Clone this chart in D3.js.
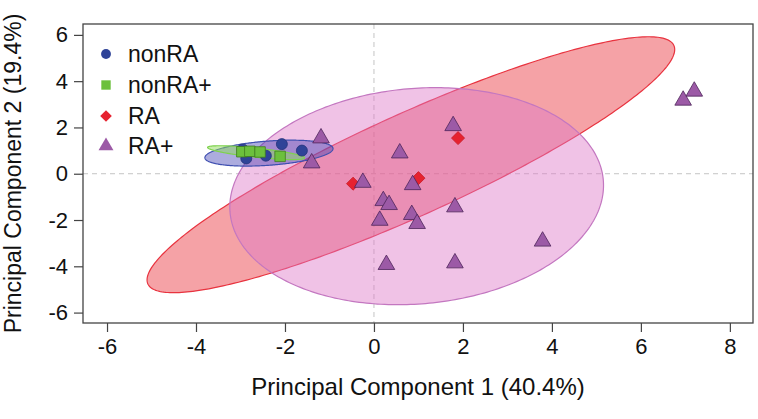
<!DOCTYPE html>
<html lang="en">
<head>
  <meta charset="UTF-8">
  <title>PCA RA / nonRA</title>
  <script src="https://d3js.org/d3.v7.min.js"></script>
  <style>
    body { margin: 0; background: #fff; }
    text { font-family: "Liberation Sans", Arial, sans-serif; fill: #111; }
  </style>
</head>
<body>
  <div id="chart"></div>

  <script>
    const width = 758;
    const height = 419;

    // groups, in drawing order
    const groups = ["nonRA", "nonRA+", "RA", "RA+"];

    // PC1 / PC2 scores per group
    const nonRA = [[-2.87, 0.66], [-2.07, 1.28], [-1.62, 1.0], [-2.43, 0.78], [-2.95, 1.05]];
    const nonRAplus = [[-2.97, 0.95], [-2.79, 0.97], [-2.56, 0.94], [-2.11, 0.75]];
    const RA = [[1.89, 1.54], [1.0, -0.19], [-0.47, -0.43]];
    const RAplus = [
      [1.78, 2.07], [0.58, 0.89], [-0.25, -0.38], [0.87, -0.48], [0.21, -1.17],
      [0.34, -1.34], [0.13, -2.02], [0.85, -1.77], [0.97, -2.16], [1.82, -1.44],
      [0.28, -3.93], [1.82, -3.86], [3.79, -2.92], [-1.19, 1.54], [-1.4, 0.46],
      [6.95, 3.17], [7.2, 3.56]
    ];

    // confidence ellipses: centre, half extents on each axis, correlation
    const ellCenter = [[-2.36, 0.89], [-2.65, 0.91], [0.83, 0.39], [0.96, -0.97]];
    const ellRx = [1.44, 1.09, 5.93, 4.2];
    const ellRy = [0.56, 0.30, 5.53, 4.69];
    const ellRho = [0.35, -0.75, 0.90, 0.10];

    const xTicks = [-6, -4, -2, 0, 2, 4, 6, 8];
    const yTicks = [-6, -4, -2, 0, 2, 4, 6];

    const pointsByGroup = [nonRA, nonRAplus, RA, RAplus];

    const fills = ["#2f4398", "#6cc03c", "#e6222f", "#9c5aa6"];
    const strokes = ["#23327a", "#3f7a20", "#c81c28", "#4d2459"];
    const ellFill = ["#3a3ab0", "#8fdc5a", "#e8303a", "#de78c8"];
    const ellStroke = ["#3f4fb0", "#7ed24e", "#e8333f", "#c377c0"];
    const ellOpacity = [0.42, 0.5, 0.45, 0.45];
    const symbols = [d3.symbolCircle, d3.symbolSquare, d3.symbolSquare, d3.symbolTriangle];
    const rotations = [0, 0, 45, 0];
    const sizes = [95, 110, 85, 120];

    const margin = { left: 83, right: 5, top: 24, bottom: 96 };

    const svg = d3.select("#chart")
      .append("svg")
      .attr("width", width)
      .attr("height", height);

    const x = d3.scaleLinear()
      .domain([-6.54, 8.52])
      .range([margin.left, width - margin.right]);

    const y = d3.scaleLinear()
      .domain([-6.45, 6.47])
      .range([height - margin.bottom, margin.top]);

    // clip for the plot region
    svg.append("clipPath").attr("id", "plotClip")
      .append("rect")
      .attr("x", margin.left).attr("y", margin.top)
      .attr("width", x.range()[1] - margin.left)
      .attr("height", y.range()[0] - margin.top);

    const plot = svg.append("g").attr("clip-path", "url(#plotClip)");

    // reference lines at zero
    plot.append("line")
      .attr("x1", x(0)).attr("x2", x(0))
      .attr("y1", margin.top).attr("y2", y.range()[0])
      .attr("stroke", "#c4c4c4").attr("stroke-dasharray", "5,4");
    plot.append("line")
      .attr("x1", margin.left).attr("x2", x.range()[1])
      .attr("y1", y(0)).attr("y2", y(0))
      .attr("stroke", "#c4c4c4").attr("stroke-dasharray", "5,4");

    // ellipses (red first, then purple, then the small ones)
    const ellOrder = [2, 3, 0, 1];
    const ts = d3.range(0, 2 * Math.PI, 0.02);
    const ellLine = d3.line().curve(d3.curveLinearClosed);

    ellOrder.forEach(i => {
      const phi = Math.acos(ellRho[i]);
      const pts = ts.map(t => [
        x(ellCenter[i][0] + ellRx[i] * Math.cos(t)),
        y(ellCenter[i][1] + ellRy[i] * Math.cos(t - phi))
      ]);
      plot.append("path")
        .attr("d", ellLine(pts))
        .attr("fill", ellFill[i])
        .attr("fill-opacity", ellOpacity[i])
        .attr("stroke", ellStroke[i])
        .attr("stroke-width", 1.2);
    });

    // points
    pointsByGroup.forEach((pts, i) => {
      plot.selectAll(null)
        .data(pts)
        .enter()
        .append("path")
        .attr("d", d3.symbol().type(symbols[i]).size(sizes[i]))
        .attr("transform", d => `translate(${x(d[0])},${y(d[1])}) rotate(${rotations[i]})`)
        .attr("fill", fills[i])
        .attr("stroke", strokes[i])
        .attr("stroke-width", 0.8);
    });

    // frame
    svg.append("rect")
      .attr("x", margin.left).attr("y", margin.top)
      .attr("width", x.range()[1] - margin.left)
      .attr("height", y.range()[0] - margin.top)
      .attr("fill", "none")
      .attr("stroke", "#444")
      .attr("stroke-width", 1.3);

    // axes
    const fmt = d => String(d);
    const xAxis = svg.append("g")
      .attr("transform", `translate(0,${y.range()[0]})`)
      .call(d3.axisBottom(x).tickValues(xTicks).tickFormat(fmt).tickSize(9).tickPadding(6));
    const yAxis = svg.append("g")
      .attr("transform", `translate(${margin.left},0)`)
      .call(d3.axisLeft(y).tickValues(yTicks).tickFormat(fmt).tickSize(9).tickPadding(6));

    [xAxis, yAxis].forEach(a => {
      a.select(".domain").remove();
      a.selectAll(".tick line").attr("stroke", "#444").attr("stroke-width", 1.2);
      a.selectAll(".tick text")
        .attr("font-size", 22)
        .attr("font-family", "Liberation Sans, Arial, sans-serif")
        .attr("fill", "#111");
    });

    // axis titles
    svg.append("text")
      .attr("x", (margin.left + x.range()[1]) / 2)
      .attr("y", 395)
      .attr("text-anchor", "middle")
      .attr("font-size", 24)
      .text("Principal Component 1 (40.4%)");

    svg.append("text")
      .attr("transform", `translate(21,${(margin.top + y.range()[0]) / 2}) rotate(-90)`)
      .attr("text-anchor", "middle")
      .attr("font-size", 23)
      .text("Principal Component 2 (19.4%)");

    // legend
    const legend = svg.append("g");
    const legendY = [54, 85, 116, 146];
    groups.forEach((g, i) => {
      legend.append("path")
        .attr("d", d3.symbol().type(symbols[i]).size(sizes[i] * 0.8))
        .attr("transform", `translate(106,${legendY[i]}) rotate(${rotations[i]})`)
        .attr("fill", fills[i])
        .attr("stroke", "none");
      legend.append("text")
        .attr("x", 128)
        .attr("y", legendY[i])
        .attr("dy", "0.36em")
        .attr("font-size", 23)
        .text(g);
    });
  </script>
</body>
</html>
